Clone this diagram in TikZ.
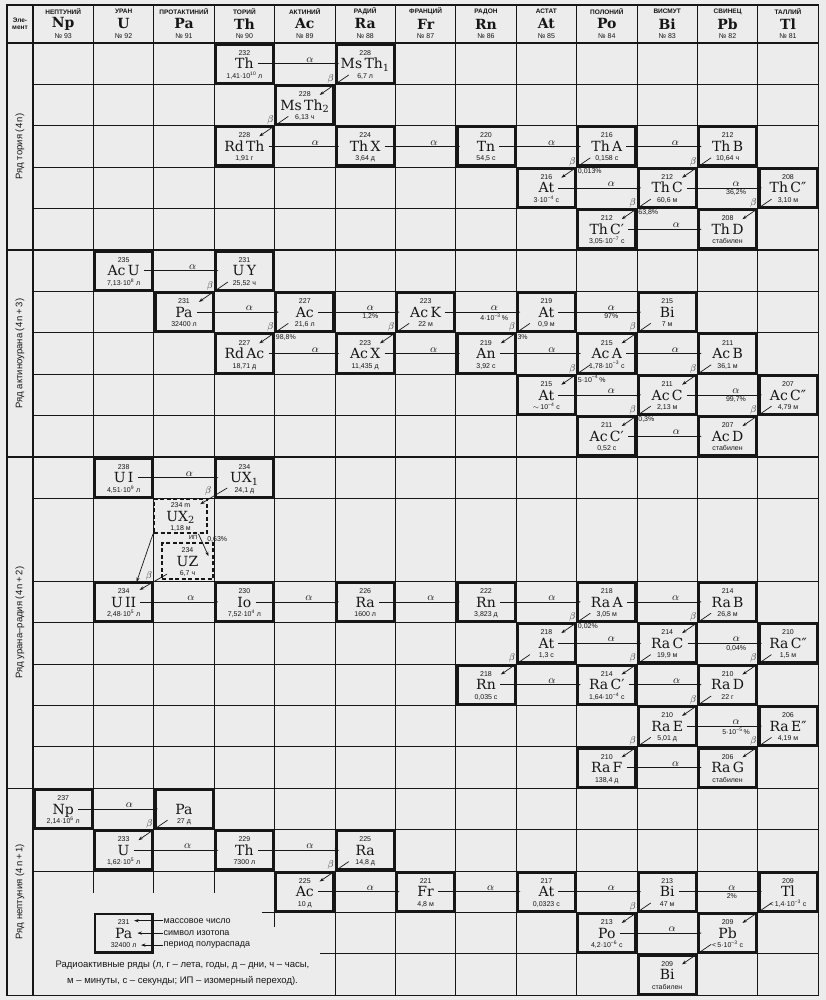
\documentclass[tikz,border=0pt]{standalone}
\usepackage{fontspec}
\setmainfont{Liberation Sans}
\newfontfamily\symfont{DejaVu Serif}
\usepackage{tikz}
\usetikzlibrary{arrows.meta, positioning, calc}
\definecolor{paper}{HTML}{ECECEC}
\definecolor{ink}{HTML}{161616}
\newcommand{\tenp}[1]{·10\textsuperscript{#1}}

\begin{document}
\begin{tikzpicture}[
  x=60.4pt, y=-41.4pt,
  gridline/.style={draw=ink, line width=0.8pt},
  sepline/.style={draw=ink, line width=1.2pt},
  isotope/.style={font=\symfont\fontsize{14pt}{14pt}\selectfont, text=ink, inner sep=1pt, text height=10.2pt, text depth=0pt},
  isobox/.style={draw=ink, line width=2.4pt, minimum width=57.4pt, minimum height=38.4pt, inner sep=0pt, anchor=center},
  dashbox/.style={draw=ink, line width=2pt, dash pattern=on 4pt off 2.5pt, inner sep=0pt, anchor=center},
  mass/.style={font=\fontsize{7pt}{7pt}\selectfont, text=ink, inner sep=0.5pt, text height=5pt, text depth=0pt, yshift=1.5pt},
  life/.style={font=\fontsize{7pt}{7pt}\selectfont, text=ink, inner sep=0.5pt, text height=5pt, text depth=1.5pt, yshift=-2.5pt},
  iso/.style 2 args={isotope, label={[isobox]center:}, label={[mass]above:#1}, label={[life]below:#2}},
  isodash/.style 2 args={isotope, label={[mass]above:#1}, label={[life]below:#2}},
  arrow/.style={-{Stealth[length=4.5pt, width=3.2pt]}, draw=ink, line width=0.7pt},
  adecay/.style={arrow, shorten <=3pt, shorten >=26pt},
  bdecay/.style={arrow, shorten <=20pt, shorten >=18pt},
  alab/.style={above, inner sep=1pt, font=\fontsize{11pt}{11pt}\selectfont, text=ink},
  apct/.style={below, inner sep=1.5pt, font=\fontsize{7pt}{7pt}\selectfont, text=ink},
  blab/.style={anchor=south east, inner sep=0.8pt, font=\fontsize{10pt}{10pt}\selectfont, text=ink},
  pct/.style={anchor=north west, inner sep=1pt, font=\fontsize{7pt}{7pt}\selectfont, text=ink},
  ip/.style={inner sep=0.6pt, font=\fontsize{6pt}{6pt}\selectfont, text=ink},
  hname/.style={inner sep=0pt, font=\bfseries\fontsize{6.5pt}{7pt}\selectfont, text=ink},
  hsym/.style={inner sep=0pt, font=\symfont\bfseries\fontsize{14pt}{14pt}\selectfont, text=ink},
  hnum/.style={inner sep=0pt, font=\fontsize{7pt}{7pt}\selectfont, text=ink},
  series/.style={rotate=90, inner sep=0pt, font=\fontsize{9.5pt}{10pt}\selectfont, text=ink},
  legend/.style={anchor=west, inner sep=0.5pt, font=\fontsize{9pt}{9pt}\selectfont, text=ink},
  lgarrow/.style={arrow, shorten >=4pt},
  note/.style={align=center, inner sep=0pt, font=\fontsize{9.5pt}{16pt}\selectfont, text=ink}
]
  % Paper and bounding box
  \fill[paper] (-0.5464,-1.0386) rectangle (13.129,23.116);
  \useasboundingbox (-0.5464,-1.0386) rectangle (13.129,23.116);

  % Grid
  \foreach \c in {1,...,12} \draw[gridline] (\c,-0.918) -- (\c,20);
  \foreach \c in {5,...,12} \draw[gridline] (\c,20) -- (\c,23);
  \foreach \c in {1,2,3} \draw[gridline] (\c,20) -- (\c,20.53);
  \draw[gridline] (4,20) -- (4,21.35);
  \foreach \r in {1,...,4,6,7,8,9,11,13,14,15,16,17,19,20} \draw[gridline] (0,\r) -- (13,\r);
  \draw[gridline] (3.79,21) -- (13,21);
  \draw[gridline] (4.75,22) -- (13,22);
  \foreach \r in {0,5,10,18} \draw[sepline] (-0.4305,\r) -- (13,\r);
  \draw[sepline] (0,-0.918) -- (0,23);
  \draw[sepline] (-0.4305,-0.918) rectangle (13,23);

  % Header
  \node[hname, align=center] (helem) at (-0.215,-0.459) {Эле-\\мент};
  \foreach \nm/\sy/\z [count=\i from 0] in {НЕПТУНИЙ/Np/93, УРАН/U/92, ПРОТАКТИНИЙ/Pa/91, ТОРИЙ/Th/90, АКТИНИЙ/Ac/89, РАДИЙ/Ra/88, ФРАНЦИЙ/Fr/87, РАДОН/Rn/86, АСТАТ/At/85, ПОЛОНИЙ/Po/84, ВИСМУТ/Bi/83, СВИНЕЦ/Pb/82, ТАЛЛИЙ/Tl/81} {
    \node[hname] (hname\i) at (\i+0.5,-0.756) {\nm};
    \node[hsym] (hsym\i) at (\i+0.5,-0.459) {\sy};
    \node[hnum] (hnum\i) at (\i+0.5,-0.169) {№ \z};
  }

  % Series names
  \node[series] (sertor) at (-0.215,2.5) {Ряд тория (4\,n)};
  \node[series] (seract) at (-0.215,7.5) {Ряд актиноурана (4\,n\,+\,3)};
  \node[series] (serura) at (-0.215,14) {Ряд урана–радия (4\,n\,+\,2)};
  \node[series] (sernep) at (-0.215,20.5) {Ряд нептуния (4\,n\,+\,1)};

  % Thorium series
  \node[iso={232}{1,41\tenp{10} л}] (th232) at (3.5,0.5) {Th};
  \node[iso={228}{6,7 л}] (msth1) at (5.5,0.5) {Ms\,Th\textsubscript{1}};
  \node[iso={228}{6,13 ч}] (msth2) at (4.5,1.5) {Ms\,Th\textsubscript{2}};
  \node[iso={228}{1,91 г}] (rdth) at (3.5,2.5) {Rd\,Th};
  \node[iso={224}{3,64 д}] (thx) at (5.5,2.5) {Th\,X};
  \node[iso={220}{54,5 с}] (tn) at (7.5,2.5) {Tn};
  \node[iso={216}{0,158 с}] (tha) at (9.5,2.5) {Th\,A};
  \node[iso={212}{10,64 ч}] (thb) at (11.5,2.5) {Th\,B};
  \node[iso={216}{3\tenp{−4} с}] (at216) at (8.5,3.5) {At};
  \node[iso={212}{60,6 м}] (thc) at (10.5,3.5) {Th\,C};
  \node[iso={208}{3,10 м}] (thcc) at (12.5,3.5) {Th\,C″};
  \node[iso={212}{3,05\tenp{−7} с}] (thcp) at (9.5,4.5) {Th\,C′};
  \node[iso={208}{стабилен}] (thd) at (11.5,4.5) {Th\,D};

  \draw[adecay] (th232) -- node[alab]{$\alpha$} (msth1.center);
  \draw[bdecay] (msth1.center) -- node[blab]{$\beta$} (msth2.center);
  \draw[bdecay] (msth2.center) -- node[blab]{$\beta$} (rdth.center);
  \draw[adecay] (rdth) -- node[alab]{$\alpha$} (thx.center);
  \draw[adecay] (thx) -- node[alab]{$\alpha$} (tn.center);
  \draw[adecay] (tn) -- node[alab]{$\alpha$} (tha.center);
  \draw[adecay] (tha) -- node[alab]{$\alpha$} (thb.center);
  \draw[bdecay] (tha.center) -- node[blab]{$\beta$} node[pct]{0,013\%} (at216.center);
  \draw[adecay] (at216) -- node[alab]{$\alpha$} (thc.center);
  \draw[bdecay] (thb.center) -- node[blab]{$\beta$} (thc.center);
  \draw[adecay] (thc) -- node[alab]{$\alpha$} node[apct]{36,2\%} (thcc.center);
  \draw[bdecay] (thc.center) -- node[blab]{$\beta$} node[pct]{63,8\%} (thcp.center);
  \draw[adecay] (thcp) -- node[alab]{$\alpha$} (thd.center);
  \draw[bdecay] (thcc.center) -- node[blab]{$\beta$} (thd.center);

  % Actinouranium series
  \node[iso={235}{7,13\tenp{8} л}] (acu) at (1.5,5.5) {Ac\,U};
  \node[iso={231}{25,52 ч}] (uy) at (3.5,5.5) {U\,Y};
  \node[iso={231}{32400 л}] (pa231) at (2.5,6.5) {Pa};
  \node[iso={227}{21,6 л}] (ac227) at (4.5,6.5) {Ac};
  \node[iso={223}{22 м}] (ack) at (6.5,6.5) {Ac\,K};
  \node[iso={219}{0,9 м}] (at219) at (8.5,6.5) {At};
  \node[iso={215}{7 м}] (bi215) at (10.5,6.5) {Bi};
  \node[iso={227}{18,71 д}] (rdac) at (3.5,7.5) {Rd\,Ac};
  \node[iso={223}{11,435 д}] (acx) at (5.5,7.5) {Ac\,X};
  \node[iso={219}{3,92 с}] (an) at (7.5,7.5) {An};
  \node[iso={215}{1,78\tenp{−3} с}] (aca) at (9.5,7.5) {Ac\,A};
  \node[iso={211}{36,1 м}] (acb) at (11.5,7.5) {Ac\,B};
  \node[iso={215}{$\sim$\,10\textsuperscript{−4} с}] (at215) at (8.5,8.5) {At};
  \node[iso={211}{2,13 м}] (acc) at (10.5,8.5) {Ac\,C};
  \node[iso={207}{4,79 м}] (accc) at (12.5,8.5) {Ac\,C″};
  \node[iso={211}{0,52 с}] (accp) at (9.5,9.5) {Ac\,C′};
  \node[iso={207}{стабилен}] (acd) at (11.5,9.5) {Ac\,D};

  \draw[adecay] (acu) -- node[alab]{$\alpha$} (uy.center);
  \draw[bdecay] (uy.center) -- node[blab]{$\beta$} (pa231.center);
  \draw[adecay] (pa231) -- node[alab]{$\alpha$} (ac227.center);
  \draw[adecay] (ac227) -- node[alab]{$\alpha$} node[apct]{1,2\%} (ack.center);
  \draw[bdecay] (ac227.center) -- node[blab]{$\beta$} node[pct]{98,8\%} (rdac.center);
  \draw[bdecay] (ack.center) -- node[blab]{$\beta$} (acx.center);
  \draw[adecay] (ack) -- node[alab]{$\alpha$} node[apct]{4\tenp{−3}\,\%} (at219.center);
  \draw[adecay] (rdac) -- node[alab]{$\alpha$} (acx.center);
  \draw[adecay] (acx) -- node[alab]{$\alpha$} (an.center);
  \draw[bdecay] (at219.center) -- node[blab]{$\beta$} node[pct]{3\%} (an.center);
  \draw[adecay] (at219) -- node[alab]{$\alpha$} node[apct]{97\%} (bi215.center);
  \draw[adecay] (an) -- node[alab]{$\alpha$} (aca.center);
  \draw[bdecay] (bi215.center) -- node[blab]{$\beta$} (aca.center);
  \draw[adecay] (aca) -- node[alab]{$\alpha$} (acb.center);
  \draw[bdecay] (aca.center) -- node[blab]{$\beta$} node[pct]{5\tenp{−4}\,\%} (at215.center);
  \draw[adecay] (at215) -- node[alab]{$\alpha$} (acc.center);
  \draw[bdecay] (acb.center) -- node[blab]{$\beta$} (acc.center);
  \draw[adecay] (acc) -- node[alab]{$\alpha$} node[apct]{99,7\%} (accc.center);
  \draw[bdecay] (acc.center) -- node[blab]{$\beta$} node[pct]{0,3\%} (accp.center);
  \draw[adecay] (accp) -- node[alab]{$\alpha$} (acd.center);
  \draw[bdecay] (accc.center) -- node[blab]{$\beta$} (acd.center);

  % Uranium-radium series
  \node[iso={238}{4,51\tenp{9} л}] (ui) at (1.5,10.5) {U\,I};
  \node[iso={234}{24,1 д}] (ux1) at (3.5,10.5) {UX\textsubscript{1}};
  \node[isodash={234 m}{1,18 м}, label={[dashbox, minimum width=53pt, minimum height=34pt, name=ux2box]center:}] (ux2) at (2.442,11.425) {UX\textsubscript{2}};
  \node[isodash={234}{6,7 ч}, label={[dashbox, minimum width=51pt, minimum height=36pt, name=uzbox]center:}] (uz) at (2.558,12.514) {UZ};
  \node[iso={234}{2,48\tenp{5} л}] (uii) at (1.5,13.5) {U\,II};
  \node[iso={230}{7,52\tenp{4} л}] (io) at (3.5,13.5) {Io};
  \node[iso={226}{1600 л}] (ra226) at (5.5,13.5) {Ra};
  \node[iso={222}{3,823 д}] (rn222) at (7.5,13.5) {Rn};
  \node[iso={218}{3,05 м}] (raa) at (9.5,13.5) {Ra\,A};
  \node[iso={214}{26,8 м}] (rab) at (11.5,13.5) {Ra\,B};
  \node[iso={218}{1,3 с}] (at218) at (8.5,14.5) {At};
  \node[iso={214}{19,9 м}] (rac) at (10.5,14.5) {Ra\,C};
  \node[iso={210}{1,5 м}] (racc) at (12.5,14.5) {Ra\,C″};
  \node[iso={218}{0,035 с}] (rn218) at (7.5,15.5) {Rn};
  \node[iso={214}{1,64\tenp{−4} с}] (racp) at (9.5,15.5) {Ra\,C′};
  \node[iso={210}{22 г}] (rad) at (11.5,15.5) {Ra\,D};
  \node[iso={210}{5,01 д}] (rae) at (10.5,16.5) {Ra\,E};
  \node[iso={206}{4,19 м}] (raee) at (12.5,16.5) {Ra\,E″};
  \node[iso={210}{138,4 д}] (raf) at (9.5,17.5) {Ra\,F};
  \node[iso={206}{стабилен}] (rag) at (11.5,17.5) {Ra\,G};

  \draw[adecay] (ui) -- node[alab]{$\alpha$} (ux1.center);
  \draw[bdecay, shorten >=23pt] (ux1.center) -- node[blab]{$\beta$} (ux2.center);
  \draw[arrow] (ux2box.south west) -- ([shift={(13pt,20pt)}]uii.center);
  \draw[arrow] ([xshift=18pt]ux2box.south) -- node[ip, pos=0, anchor=north east]{ИП} node[pct, pos=0.25, anchor=west, xshift=5pt]{0,63\%} ([shift={(21pt,5pt)}]uz.center);
  \draw[arrow] ([shift={(6pt,6pt)}]uzbox.south west) -- node[blab]{$\beta$} ([shift={(16pt,12pt)}]uii.center);
  \draw[adecay] (uii) -- node[alab]{$\alpha$} (io.center);
  \draw[adecay] (io) -- node[alab]{$\alpha$} (ra226.center);
  \draw[adecay] (ra226) -- node[alab]{$\alpha$} (rn222.center);
  \draw[adecay] (rn222) -- node[alab]{$\alpha$} (raa.center);
  \draw[adecay] (raa) -- node[alab]{$\alpha$} (rab.center);
  \draw[bdecay] (raa.center) -- node[blab]{$\beta$} node[pct]{0,02\%} (at218.center);
  \draw[adecay] (at218) -- node[alab]{$\alpha$} (rac.center);
  \draw[bdecay] (rab.center) -- node[blab]{$\beta$} (rac.center);
  \draw[adecay] (rac) -- node[alab]{$\alpha$} node[apct]{0,04\%} (racc.center);
  \draw[bdecay] (rac.center) -- node[blab]{$\beta$} (racp.center);
  \draw[bdecay] (at218.center) -- node[blab]{$\beta$} (rn218.center);
  \draw[adecay] (rn218) -- node[alab]{$\alpha$} (racp.center);
  \draw[adecay] (racp) -- node[alab]{$\alpha$} (rad.center);
  \draw[bdecay] (racc.center) -- node[blab]{$\beta$} (rad.center);
  \draw[bdecay] (rad.center) -- node[blab]{$\beta$} (rae.center);
  \draw[adecay] (rae) -- node[alab]{$\alpha$} node[apct]{5\tenp{−5}\,\%} (raee.center);
  \draw[bdecay] (rae.center) -- node[blab]{$\beta$} (raf.center);
  \draw[adecay] (raf) -- node[alab]{$\alpha$} (rag.center);
  \draw[bdecay] (raee.center) -- node[blab]{$\beta$} (rag.center);

  % Neptunium series
  \node[iso={237}{2,14\tenp{6} л}] (np237) at (0.5,18.5) {Np};
  \node[iso={}{27 д}] (pa233) at (2.5,18.5) {Pa};
  \node[iso={233}{1,62\tenp{5} л}] (u233) at (1.5,19.5) {U};
  \node[iso={229}{7300 л}] (th229) at (3.5,19.5) {Th};
  \node[iso={225}{14,8 д}] (ra225) at (5.5,19.5) {Ra};
  \node[iso={225}{10 д}] (ac225) at (4.5,20.5) {Ac};
  \node[iso={221}{4,8 м}] (fr221) at (6.5,20.5) {Fr};
  \node[iso={217}{0,0323 с}] (at217) at (8.5,20.5) {At};
  \node[iso={213}{47 м}] (bi213) at (10.5,20.5) {Bi};
  \node[iso={209}{<\,1,4\tenp{−3} с}] (tl209) at (12.5,20.5) {Tl};
  \node[iso={213}{4,2\tenp{−6} с}] (po213) at (9.5,21.5) {Po};
  \node[iso={209}{<\,5\tenp{−3} с}] (pb209) at (11.5,21.5) {Pb};
  \node[iso={209}{стабилен}] (bi209) at (10.5,22.5) {Bi};

  \draw[adecay] (np237) -- node[alab]{$\alpha$} (pa233.center);
  \draw[bdecay] (pa233.center) -- node[blab]{$\beta$} (u233.center);
  \draw[adecay] (u233) -- node[alab]{$\alpha$} (th229.center);
  \draw[adecay] (th229) -- node[alab]{$\alpha$} (ra225.center);
  \draw[bdecay] (ra225.center) -- node[blab]{$\beta$} (ac225.center);
  \draw[adecay] (ac225) -- node[alab]{$\alpha$} (fr221.center);
  \draw[adecay] (fr221) -- node[alab]{$\alpha$} (at217.center);
  \draw[adecay] (at217) -- node[alab]{$\alpha$} (bi213.center);
  \draw[adecay] (bi213) -- node[alab]{$\alpha$} node[apct]{2\%} (tl209.center);
  \draw[bdecay] (bi213.center) -- node[blab]{$\beta$} (po213.center);
  \draw[adecay] (po213) -- node[alab]{$\alpha$} (pb209.center);
  \draw[bdecay] (tl209.center) -- (pb209.center);
  \draw[bdecay] (pb209.center) -- (bi209.center);

  % Legend
  \node[isotope, label={[isobox]center:}, label={[mass, name=lgmass]above:231}, label={[life, name=lglife]below:32400 л}] (lgpa) at (1.5,21.5) {Pa};
  \node[legend] (lgt1) at (2.152,21.2) {массовое число};
  \node[legend] (lgt2) at (2.152,21.5) {символ изотопа};
  \node[legend] (lgt3) at (2.152,21.79) {период полураспада};
  \draw[lgarrow] (lgt1.west) -- (lgmass.east |- lgt1.west);
  \draw[lgarrow] (lgt2.west) -- (lgpa.east |- lgt2.west);
  \draw[lgarrow] (lgt3.west) -- (lglife.east |- lgt3.west);
  \node[note] (notes) at (2.475,22.46) {Радиоактивные ряды (л, г – лета, годы, д – дни, ч – часы,\\м – минуты, с – секунды; ИП – изомерный переход).};
\end{tikzpicture}
\end{document}
